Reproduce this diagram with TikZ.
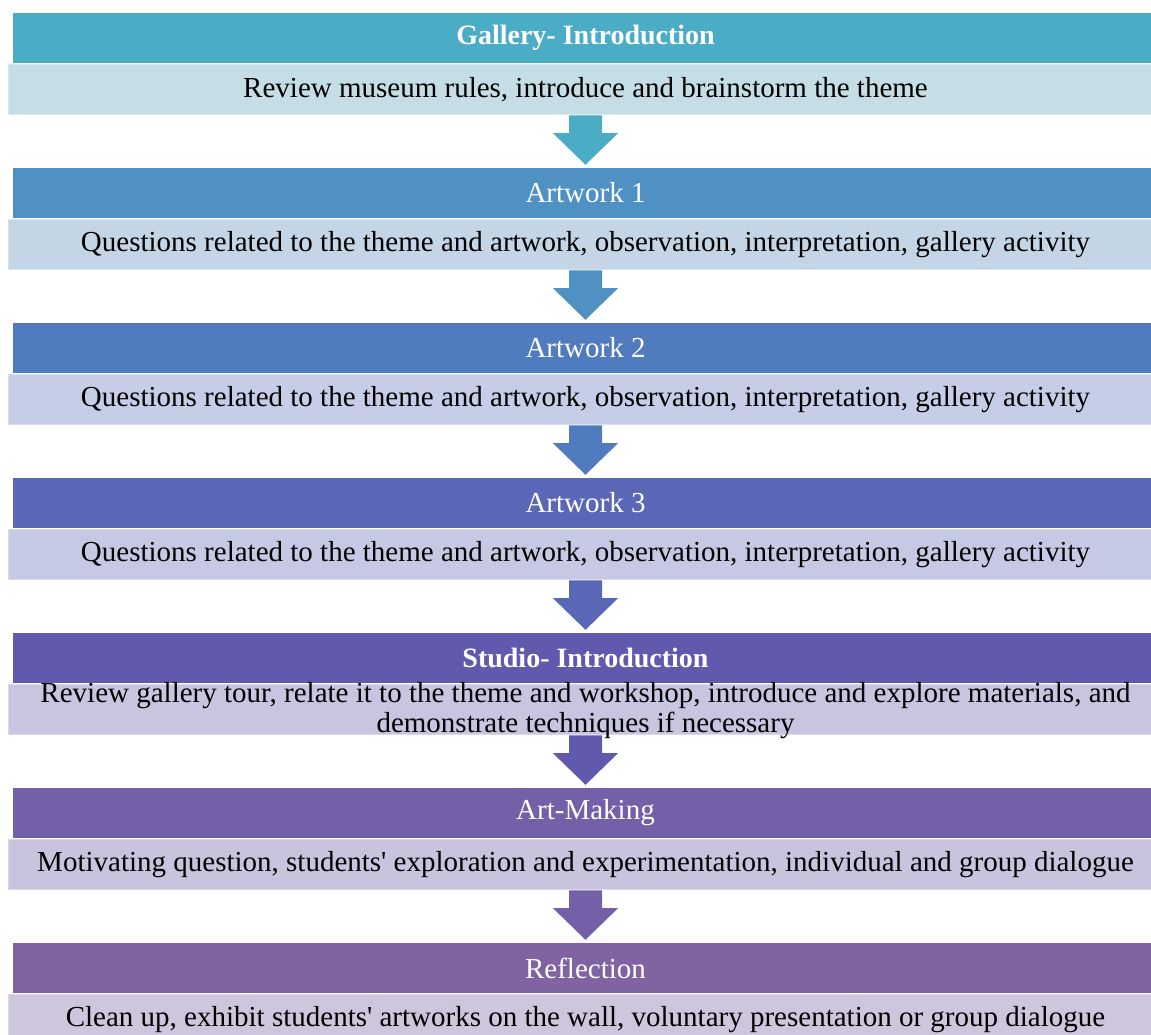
\documentclass[tikz,border=0pt]{standalone}
\usepackage{fontspec}
\setmainfont{Liberation Serif}
\usetikzlibrary{positioning,calc,backgrounds}

\definecolor{galhead}{HTML}{4BACC6}
\definecolor{galbody}{HTML}{C5DEE6}
\definecolor{artAhead}{HTML}{4F91C2}
\definecolor{artAbody}{HTML}{C4D5E6}
\definecolor{artBhead}{HTML}{507BBE}
\definecolor{artBbody}{HTML}{C5CEE6}
\definecolor{artChead}{HTML}{5A67B6}
\definecolor{artCbody}{HTML}{C6C9E4}
\definecolor{studhead}{HTML}{6059AE}
\definecolor{studbody}{HTML}{C7C5E0}
\definecolor{makehead}{HTML}{7460A8}
\definecolor{makebody}{HTML}{CAC3DE}
\definecolor{reflhead}{HTML}{8064A2}
\definecolor{reflbody}{HTML}{CEC6DC}

\begin{document}
\begin{tikzpicture}[x=1pt,y=-1pt]
  \useasboundingbox (0,0) rectangle (1151,1034);

  \tikzstyle{head}=[minimum width=1145pt, minimum height=50pt, inner sep=0pt, text=white, font=\fontsize{29}{31}\selectfont]
  \tikzstyle{bold}=[font=\fontsize{28}{31}\selectfont\bfseries]
  \tikzstyle{body}=[minimum width=1155pt, minimum height=51pt, inner sep=0pt, draw=white, draw opacity=0.35, line width=2pt, font=\fontsize{29}{31}\selectfont]

  % step headers and their descriptions
  \node[head, bold, fill=galhead] (gal) at (585.5,38) {Gallery- Introduction};
  \node[body, fill=galbody, below=0pt of gal] (galdesc) {Review museum rules, introduce and brainstorm the theme};

  \node[head, fill=artAhead] (artA) at (585.5,193) {Artwork 1};
  \node[body, fill=artAbody, below=0pt of artA] (artAdesc) {Questions related to the theme and artwork, observation, interpretation, gallery activity};

  \node[head, fill=artBhead] (artB) at (585.5,348) {Artwork 2};
  \node[body, fill=artBbody, below=0pt of artB] (artBdesc) {Questions related to the theme and artwork, observation, interpretation, gallery activity};

  \node[head, fill=artChead] (artC) at (585.5,503) {Artwork 3};
  \node[body, fill=artCbody, below=0pt of artC] (artCdesc) {Questions related to the theme and artwork, observation, interpretation, gallery activity};

  \node[head, bold, fill=studhead] (stud) at (585.5,658) {Studio- Introduction};
  \node[body, fill=studbody, below=0pt of stud] (studdesc) {};
  \node[align=center, inner sep=0pt, font=\fontsize{29}{30}\selectfont] (studtext) at ($(studdesc.center)+(0,1)$) {Review gallery tour, relate it to the theme and workshop, introduce and explore materials, and\\demonstrate techniques if necessary};

  \node[head, fill=makehead] (make) at (585.5,813) {Art-Making};
  \node[body, fill=makebody, below=0pt of make] (makedesc) {Motivating question, students\textquotesingle{} exploration and experimentation, individual and group dialogue};

  \node[head, fill=reflhead] (refl) at (585.5,968) {Reflection};
  \node[body, fill=reflbody, below=0pt of refl] (refldesc) {Clean up, exhibit students\textquotesingle{} artworks on the wall, voluntary presentation or group dialogue};

  % block arrows between the steps
  \begin{scope}[on background layer]
    \fill[galhead] ($(galdesc.south)+(-16.5,-1)$) -- ($(galdesc.south)+(16.5,-1)$) -- ($(galdesc.south)+(16.5,17)$) -- ($(galdesc.south)+(32.5,17)$) -- ($(artA.north)+(0,-3)$) -- ($(galdesc.south)+(-32.5,17)$) -- ($(galdesc.south)+(-16.5,17)$) -- cycle;
    \fill[artAhead] ($(artAdesc.south)+(-16.5,-1)$) -- ($(artAdesc.south)+(16.5,-1)$) -- ($(artAdesc.south)+(16.5,17)$) -- ($(artAdesc.south)+(32.5,17)$) -- ($(artB.north)+(0,-3)$) -- ($(artAdesc.south)+(-32.5,17)$) -- ($(artAdesc.south)+(-16.5,17)$) -- cycle;
    \fill[artBhead] ($(artBdesc.south)+(-16.5,-1)$) -- ($(artBdesc.south)+(16.5,-1)$) -- ($(artBdesc.south)+(16.5,17)$) -- ($(artBdesc.south)+(32.5,17)$) -- ($(artC.north)+(0,-3)$) -- ($(artBdesc.south)+(-32.5,17)$) -- ($(artBdesc.south)+(-16.5,17)$) -- cycle;
    \fill[artChead] ($(artCdesc.south)+(-16.5,-1)$) -- ($(artCdesc.south)+(16.5,-1)$) -- ($(artCdesc.south)+(16.5,17)$) -- ($(artCdesc.south)+(32.5,17)$) -- ($(stud.north)+(0,-3)$) -- ($(artCdesc.south)+(-32.5,17)$) -- ($(artCdesc.south)+(-16.5,17)$) -- cycle;
    \fill[studhead] ($(studdesc.south)+(-16.5,-1)$) -- ($(studdesc.south)+(16.5,-1)$) -- ($(studdesc.south)+(16.5,17)$) -- ($(studdesc.south)+(32.5,17)$) -- ($(make.north)+(0,-3)$) -- ($(studdesc.south)+(-32.5,17)$) -- ($(studdesc.south)+(-16.5,17)$) -- cycle;
    \fill[makehead] ($(makedesc.south)+(-16.5,-1)$) -- ($(makedesc.south)+(16.5,-1)$) -- ($(makedesc.south)+(16.5,17)$) -- ($(makedesc.south)+(32.5,17)$) -- ($(refl.north)+(0,-3)$) -- ($(makedesc.south)+(-32.5,17)$) -- ($(makedesc.south)+(-16.5,17)$) -- cycle;
  \end{scope}
\end{tikzpicture}
\end{document}
